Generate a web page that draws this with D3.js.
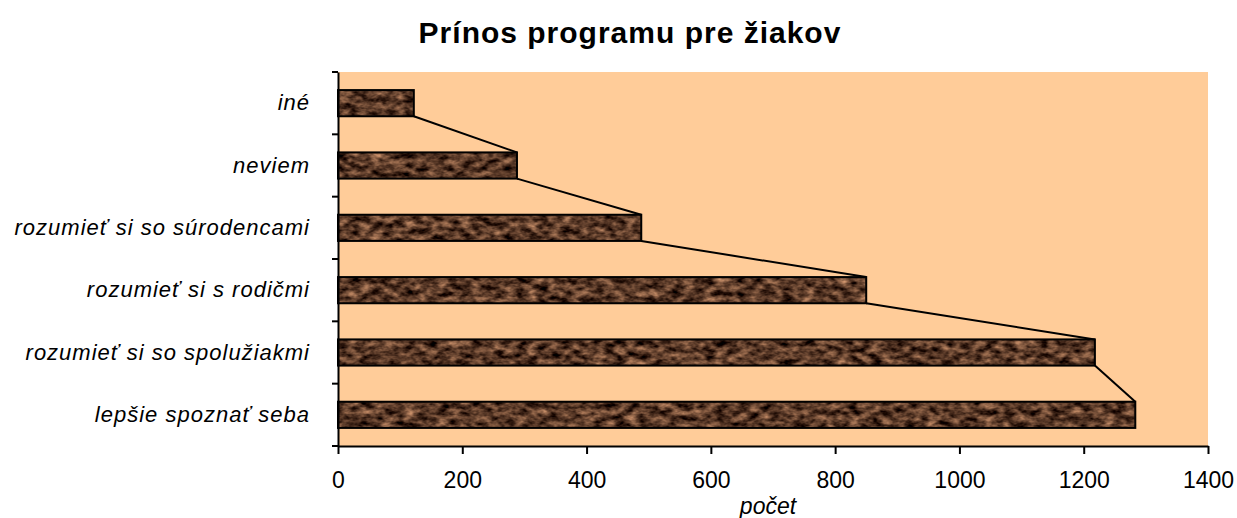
<!DOCTYPE html>
<html>
<head>
	<meta charset="utf-8">
	<script src="https://cdnjs.cloudflare.com/ajax/libs/d3/7.8.5/d3.min.js"></script>
	<style>
		body { margin: 0; background: white; font-family: "Liberation Sans", Arial, sans-serif; }
		.x-axis text { font-size: 23px; fill: black; font-family: "Liberation Sans", Arial, sans-serif; }
		.y-axis text { font-size: 22px; font-style: italic; fill: black; letter-spacing: 1px; font-family: "Liberation Sans", Arial, sans-serif; }
		.x-axis path, .y-axis path { stroke: black; stroke-width: 2; }
		.x-axis line, .y-axis line { stroke: black; stroke-width: 2; }
	</style>
</head>
<body>
	<svg width="1237" height="518"></svg>
	<script>
	// data
	var categories = ["lepšie spoznať seba", "rozumieť si so spolužiakmi", "rozumieť si s rodičmi",
		"rozumieť si so súrodencami", "neviem", "iné"];
	var counts = [1283, 1218, 850, 488, 288, 122];
	var tickValues = [0, 200, 400, 600, 800, 1000, 1200, 1400];

	var data = categories.map(function(c, i) { return {cat: c, val: counts[i]}; });

	var svg = d3.select("svg"),
		margin = {top: 72, right: 29, bottom: 72, left: 338},
		width = svg.attr("width") - margin.left - margin.right,
		height = svg.attr("height") - margin.top - margin.bottom,
		g = svg.append("g").attr("transform", "translate(" + margin.left + "," + margin.top + ")");

	// brown marble texture for bars
	var defs = svg.append("defs");
	var filt = defs.append("filter").attr("id", "marble")
		.attr("color-interpolation-filters", "sRGB")
		.attr("x", 0).attr("y", 0).attr("width", 1).attr("height", 1);
	filt.append("feTurbulence").attr("type", "fractalNoise")
		.attr("baseFrequency", "0.09 0.16").attr("numOctaves", 3).attr("seed", 7);
	filt.append("feColorMatrix").attr("type", "matrix")
		.attr("values", "1.1 0 0 0 -0.2  0.85 0 0 0 -0.2  0.65 0 0 0 -0.17  0 0 0 0 1");
	filt.append("feComposite").attr("in2", "SourceGraphic").attr("operator", "in");

	var x = d3.scaleLinear().domain([0, 1400]).range([0, width]),
		y = d3.scaleBand().domain(categories).range([height, 0]).paddingInner(0.58).paddingOuter(0.29);

	// plot background
	g.append("rect")
		.attr("width", width).attr("height", height)
		.style("fill", "#ffcc99");

	// title
	svg.append("text")
		.attr("x", 630).attr("y", 43)
		.attr("text-anchor", "middle")
		.style("font-size", "30px").style("font-weight", "bold")
		.style("letter-spacing", "1px")
		.text("Prínos programu pre žiakov");

	// bars
	g.selectAll(".bar-fill")
		.data(data)
		.enter().append("rect")
		.attr("class", "bar-fill")
		.attr("x", 0)
		.attr("y", function(d) { return y(d.cat); })
		.attr("width", function(d) { return x(d.val); })
		.attr("height", y.bandwidth())
		.style("fill", "#5a3a22")
		.attr("filter", "url(#marble)");

	g.selectAll(".bar")
		.data(data)
		.enter().append("rect")
		.attr("class", "bar")
		.attr("x", 0)
		.attr("y", function(d) { return y(d.cat); })
		.attr("width", function(d) { return x(d.val); })
		.attr("height", y.bandwidth())
		.style("fill", "none")
		.style("stroke", "black")
		.style("stroke-width", 2);

	// series lines joining bar ends
	var joins = [];
	for (var i = 0; i < data.length - 1; i++) {
		joins.push({a: data[i + 1], b: data[i]});
	}
	g.selectAll(".join")
		.data(joins)
		.enter().append("line")
		.attr("class", "join")
		.attr("x1", function(d) { return x(d.a.val); })
		.attr("y1", function(d) { return y(d.a.cat) + y.bandwidth(); })
		.attr("x2", function(d) { return x(d.b.val); })
		.attr("y2", function(d) { return y(d.b.cat); })
		.style("stroke", "black")
		.style("stroke-width", 2);

	// axes
	g.append("g")
		.attr("class", "x-axis")
		.attr("transform", "translate(0," + height + ")")
		.call(d3.axisBottom(x).tickValues(tickValues).tickFormat(d3.format("d"))
			.tickSize(8).tickSizeOuter(0).tickPadding(18));

	var yAxis = g.append("g")
		.attr("class", "y-axis")
		.call(d3.axisLeft(y).tickSize(0).tickPadding(28));

	// category separator ticks
	var seps = d3.range(categories.length + 1);
	yAxis.selectAll(".sep")
		.data(seps)
		.enter().append("line")
		.attr("class", "sep")
		.attr("x1", -6).attr("x2", 0)
		.attr("y1", function(d) { return height - d * height / categories.length; })
		.attr("y2", function(d) { return height - d * height / categories.length; });

	// axis title
	svg.append("text")
		.attr("x", 768).attr("y", 514)
		.attr("text-anchor", "middle")
		.style("font-size", "23px").style("font-style", "italic")
		.text("počet");
	</script>
</body>
</html>
